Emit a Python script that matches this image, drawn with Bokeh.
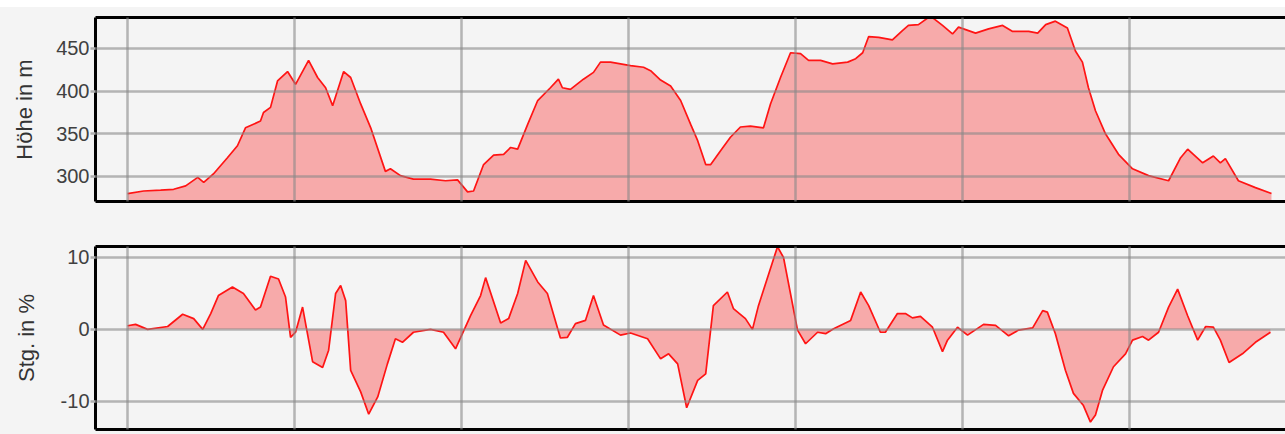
from bokeh.plotting import figure
from bokeh.layouts import column
from bokeh.models import Range1d, LinearAxis, FixedTicker, PrintfTickFormatter
from bokeh.embed import file_html
from bokeh.resources import INLINE

# ---------------- data ----------------
dist_elev = [0.00, 0.48, 0.99, 1.38, 1.74, 2.10, 2.28, 2.57, 2.99, 3.29, 3.53, 3.98, 4.07, 4.28,
             4.49, 4.79, 5.03, 5.42, 5.69, 5.93, 6.14, 6.47, 6.68, 6.98, 7.28, 7.72, 7.87, 8.17,
             8.56, 9.07, 9.52, 9.88, 10.18, 10.36, 10.66, 10.96, 11.26, 11.47, 11.68, 11.98,
             12.28, 12.66, 12.90, 13.02, 13.26, 13.65, 13.95, 14.16, 14.46, 15.06, 15.45, 15.66,
             15.96, 16.26, 16.56, 16.86, 17.07, 17.31, 17.46, 17.75, 18.05, 18.35, 18.65, 19.04,
             19.25, 19.55, 19.85, 20.15, 20.39, 20.75, 21.11, 21.56, 21.80, 22.01, 22.19, 22.49,
             22.90, 23.20, 23.38, 23.68, 24.04, 24.40, 24.70, 24.88, 25.39, 25.78, 26.20, 26.50,
             26.98, 27.25, 27.49, 27.78, 28.14, 28.38, 28.59, 28.77, 28.98, 29.28, 29.67, 30.09,
             30.57, 31.17, 31.53, 31.74, 32.19, 32.51, 32.72, 32.87, 33.26, 33.77, 34.25]
elevation = [280, 283, 284, 285, 289, 299, 293, 303, 322, 336, 357, 365, 375, 381,
             412, 423, 408, 436, 416, 404, 383, 423, 416, 385, 357, 306, 309, 301,
             297, 297, 295, 296, 282, 283, 314, 325, 326, 334, 332, 361,
             389, 404, 414, 404, 402, 414, 422, 434, 434, 430, 428, 424,
             413, 406, 389, 361, 342, 314, 314, 330, 346, 358, 359, 357,
             385, 416, 445, 444, 436, 436, 432, 434, 438, 445, 464, 463,
             460, 471, 477, 478, 488, 477, 467, 475, 468, 473, 477, 470,
             470, 468, 478, 482, 474, 447, 434, 404, 377, 350, 326, 309,
             301, 295, 322, 332, 316, 324, 316, 321, 295, 287, 280]

dist_grade = [0.00, 0.24, 0.60, 1.20, 1.65, 1.98, 2.25, 2.49, 2.72, 3.14, 3.47, 3.83, 3.98, 4.28,
              4.52, 4.73, 4.88, 5.03, 5.24, 5.54, 5.84, 6.02, 6.23, 6.38, 6.53, 6.68, 6.98, 7.22,
              7.49, 7.78, 8.02, 8.23, 8.56, 9.07, 9.46, 9.82, 10.27, 10.57, 10.72, 11.17, 11.41,
              11.68, 11.92, 12.28, 12.57, 12.96, 13.17, 13.41, 13.71, 13.95, 14.25, 14.76, 15.06,
              15.57, 15.96, 16.20, 16.47, 16.74, 17.07, 17.31, 17.54, 17.96, 18.14, 18.50, 18.71,
              18.89, 19.46, 19.64, 20.06, 20.30, 20.66, 20.90, 21.14, 21.65, 21.95, 22.19, 22.54,
              22.69, 23.05, 23.29, 23.50, 23.74, 24.10, 24.40, 24.55, 24.85, 25.15, 25.63, 25.99,
              26.38, 26.68, 27.10, 27.40, 27.54, 27.78, 28.08, 28.32, 28.62, 28.83, 28.98, 29.19,
              29.52, 29.88, 30.09, 30.39, 30.57, 30.87, 31.17, 31.44, 31.74, 32.04, 32.28, 32.51,
              32.72, 32.98, 33.38, 33.77, 34.22]
grade = [0.5, 0.7, 0.0, 0.4, 2.1, 1.5, 0.0, 2.2, 4.7, 5.9, 5.0, 2.7, 3.1, 7.4,
         7.0, 4.5, -1.1, -0.4, 3.1, -4.5, -5.3, -2.9, 5.0, 6.1, 4.0, -5.7, -8.7, -11.8,
         -9.4, -4.8, -1.3, -1.8, -0.4, 0.0, -0.4, -2.7, 1.9, 4.7, 7.2, 0.9, 1.5,
         5.0, 9.6, 6.6, 5.0, -1.2, -1.1, 0.8, 1.25, 4.7, 0.6, -0.8, -0.5,
         -1.3, -4.1, -3.4, -4.8, -10.9, -7.1, -6.2, 3.3, 5.2, 2.9, 1.5, 0.0,
         3.3, 11.5, 10.0, -0.1, -2.0, -0.4, -0.6, 0.1, 1.25, 5.2, 3.3, -0.4,
         -0.4, 2.2, 2.2, 1.6, 1.8, 0.3, -3.1, -1.5, 0.3, -0.8, 0.7, 0.55,
         -0.9, -0.1, 0.2, 2.6, 2.4, -0.6, -5.7, -8.9, -10.6, -12.9, -11.9, -8.5,
         -5.2, -3.4, -1.5, -1.0, -1.5, -0.4, 3.1, 5.6, 1.9, -1.5, 0.4, 0.3,
         -1.5, -4.6, -3.4, -1.8, -0.4]

x_ticks = [0, 5, 10, 15, 20, 25, 30]
elev_ticks = [300, 350, 400, 450]
grade_ticks = [-10, 0, 10]
elev_label = "Höhe in m"
grade_label = "Stg. in %"

# ---------------- style ----------------
BG = "#f4f4f4"
FONT = "Liberation Sans"
GRID = "#888888"

x_range = Range1d(-0.96, 34.67)


def make_panel(height, y0, y1, yticks, label, mbt, mbb, standoff):
    p = figure(width=1285, height=height, x_range=x_range, y_range=Range1d(y0, y1),
               output_backend="svg", toolbar_location=None,
               min_border_left=95, min_border_right=0,
               min_border_top=mbt, min_border_bottom=mbb,
               background_fill_color=BG, border_fill_color=BG,
               outline_line_color=None)

    # x axis below: only the black frame border, no ticks / labels
    xa = p.xaxis[0]
    xa.ticker = FixedTicker(ticks=[])
    xa.major_tick_out = 0
    xa.major_tick_in = 0
    xa.major_label_standoff = 0
    xa.minor_tick_line_color = None
    xa.axis_line_color = "black"
    xa.axis_line_width = 3

    top = LinearAxis(ticker=FixedTicker(ticks=[]))
    top.major_tick_out = 0
    top.major_tick_in = 0
    top.major_label_standoff = 0
    top.minor_tick_line_color = None
    top.axis_line_color = "black"
    top.axis_line_width = 3
    p.add_layout(top, "above")

    ya = p.yaxis[0]
    ya.ticker = FixedTicker(ticks=yticks)
    ya.formatter = PrintfTickFormatter(format="%d")
    ya.minor_tick_line_color = None
    ya.major_tick_out = 5
    ya.major_tick_in = 0
    ya.major_tick_line_color = "#b0b0b0"
    ya.major_tick_line_width = 2.5
    ya.major_label_standoff = 1
    ya.major_label_text_font = FONT
    ya.major_label_text_font_size = "20px"
    ya.major_label_text_color = "#404040"
    ya.axis_line_color = "black"
    ya.axis_line_width = 3
    ya.axis_label = label
    ya.axis_label_text_font = FONT
    ya.axis_label_text_font_size = "22px"
    ya.axis_label_text_font_style = "normal"
    ya.axis_label_text_color = "#333333"
    ya.axis_label_standoff = standoff

    p.xgrid.ticker = FixedTicker(ticks=x_ticks)
    p.ygrid.ticker = FixedTicker(ticks=yticks)
    p.grid.grid_line_color = GRID
    p.grid.grid_line_alpha = 0.6
    p.grid.grid_line_width = 2.5
    p.grid.level = "annotation"
    return p


p1 = make_panel(214, 270.7, 486.3, elev_ticks, elev_label, 10, 20, 16)
p1.varea(x=dist_elev, y1=270.7, y2=elevation, fill_color="#ff0000", fill_alpha=0.3)
p1.line(dist_elev, elevation, line_color="#ff1414", line_width=1.7)

p2 = make_panel(213, -13.93, 11.53, grade_ticks, grade_label, 25, 5, 19)
p2.varea(x=dist_grade, y1=0, y2=grade, fill_color="#ff0000", fill_alpha=0.3)
p2.line(dist_grade, grade, line_color="#ff1414", line_width=1.7)

layout = column(p1, p2, spacing=0, margin=(7, 0, 0, 0),
                styles={"background-color": BG})
open("out.html", "w").write(file_html(layout, INLINE))
